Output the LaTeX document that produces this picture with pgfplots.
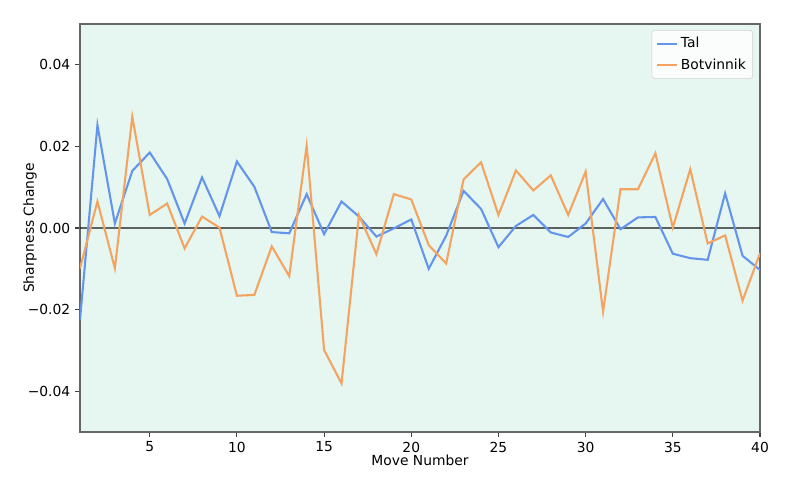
\documentclass[border=0pt]{standalone}
\usepackage{fontspec}
\setmainfont{DejaVu Sans}
\usepackage{pgfplots}
\pgfplotsset{compat=1.18}
\definecolor{talc}{RGB}{100,149,237}
\definecolor{botc}{RGB}{244,164,96}
\definecolor{bgc}{RGB}{230,246,240}
\begin{document}
\begin{tikzpicture}
\useasboundingbox (-57.6bp,-34.56bp) rectangle (518.4bp,311.04bp);
\begin{axis}[
  at={(0,0)}, anchor=south west,
  scale only axis, width=489.6bp, height=293.76bp,
  xmin=1, xmax=40, ymin=-0.05, ymax=0.05,
  scaled y ticks=false,
  axis background/.style={fill=bgc},
  xtick={5,10,...,40}, xticklabels={5,10,15,20,25,30,35,40},
  ytick={-0.04,-0.02,0,0.02,0.04},
  yticklabels={−0.04,−0.02,0.00,0.02,0.04},
  tick align=outside, major tick length=3.5bp,
  xtick pos=bottom, ytick pos=left,
  tick style={black!75, line width=0.8bp},
  axis line style={black!60, line width=0.8bp},
  font=\fontsize{10}{12}\selectfont,
  xlabel={Move Number}, ylabel={Sharpness Change},
  xlabel style={at={(axis description cs:0.5,-0.0688)}, anchor=center},
  ylabel style={at={(axis description cs:-0.0735,0.5)}, anchor=center},
  legend style={at={(axis description cs:0.9897,0.985)}, anchor=north east,
    font=\fontsize{10}{12}\selectfont, draw=black!18, rounded corners=2bp,
    fill=white, fill opacity=0.8, text opacity=1, inner xsep=3bp, inner ysep=3bp, row sep=2.5bp},
  legend cell align=left,
  legend image code/.code={\draw[#1] (0bp,0bp) -- (14.4bp,0bp);},
]
\addplot[black, opacity=0.6, line width=0.8bp, forget plot] coordinates {(1,0) (40,0)};
\addplot[talc, line width=1.5bp] coordinates {
(1,-0.0225) (2,0.0252) (3,0.0011) (4,0.0140) (5,0.0185) (6,0.0120) (7,0.0011) (8,0.0124)
(9,0.0029) (10,0.0163) (11,0.0101) (12,-0.0010) (13,-0.0013) (14,0.0083) (15,-0.0015)
(16,0.0065) (17,0.0028) (18,-0.0021) (19,-0.0001) (20,0.0021) (21,-0.0100) (22,-0.0019)
(23,0.0091) (24,0.0047) (25,-0.0047) (26,0.0005) (27,0.0032) (28,-0.0011) (29,-0.0022)
(30,0.0011) (31,0.0071) (32,-0.0003) (33,0.0026) (34,0.0027) (35,-0.0063) (36,-0.0074)
(37,-0.0078) (38,0.0085) (39,-0.0068) (40,-0.0103)};
\addlegendentry{Tal}
\addplot[botc, line width=1.5bp] coordinates {
(1,-0.0099) (2,0.0065) (3,-0.0099) (4,0.0273) (5,0.0032) (6,0.0060) (7,-0.0050) (8,0.0028)
(9,0.0001) (10,-0.0166) (11,-0.0164) (12,-0.0045) (13,-0.0118) (14,0.0202) (15,-0.0299)
(16,-0.0381) (17,0.0031) (18,-0.0064) (19,0.0083) (20,0.0070) (21,-0.0042) (22,-0.0087)
(23,0.0119) (24,0.0161) (25,0.0032) (26,0.0141) (27,0.0092) (28,0.0129) (29,0.0032)
(30,0.0138) (31,-0.0205) (32,0.0095) (33,0.0095) (34,0.0183) (35,0.0001) (36,0.0144)
(37,-0.0038) (38,-0.0018) (39,-0.0178) (40,-0.0062)};
\addlegendentry{Botvinnik}
\end{axis}
\end{tikzpicture}
\end{document}
